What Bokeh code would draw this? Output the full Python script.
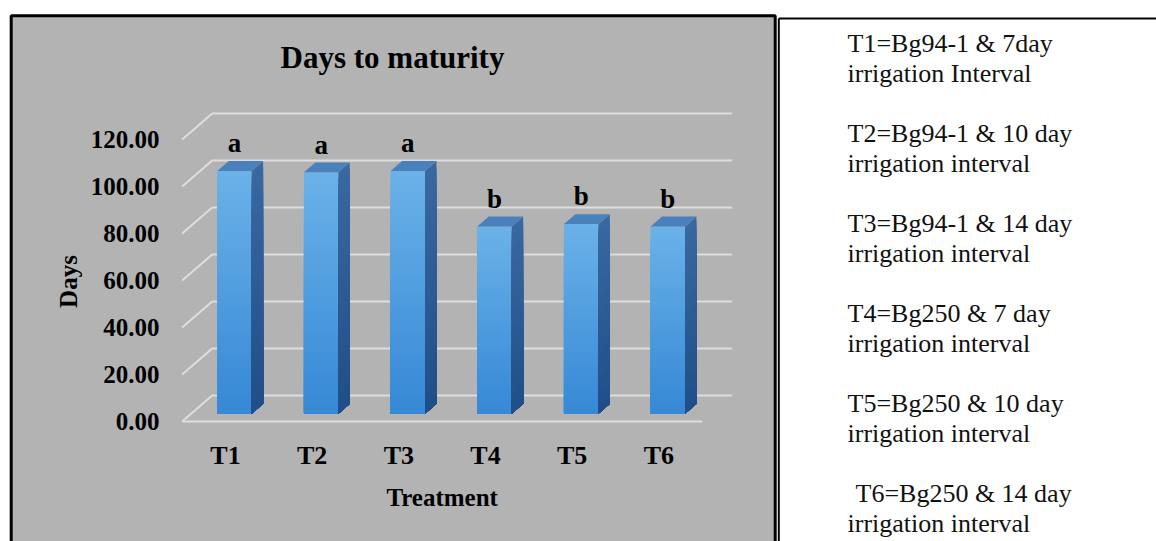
import numpy as np
from bokeh.plotting import figure
from bokeh.models import Range1d
from bokeh.embed import file_html
from bokeh.resources import INLINE
from bokeh.core.properties import value

# ---- data -------------------------------------------------------------
treatments = ["T1", "T2", "T3", "T4", "T5", "T6"]
days = [103.3, 102.7, 103.3, 79.7, 80.7, 79.7]
groups = ["a", "a", "a", "b", "b", "b"]
y_ticks = [0, 20, 40, 60, 80, 100, 120]
y_tick_labels = [f"{t:.2f}" for t in y_ticks]
key_first = ["T1=Bg94-1 & 7day", "T2=Bg94-1 & 10 day", "T3=Bg94-1 & 14 day",
             "T4=Bg250 & 7 day", "T5=Bg250 & 10 day", "T6=Bg250 & 14 day"]
key_second = ["irrigation Interval", "irrigation interval", "irrigation interval",
              "irrigation interval", "irrigation interval", "irrigation interval"]

# ---- geometry of the page (pixels) -------------------------------------
W, H = 1156, 541
SLOT = 86.67          # pixels per category slot
PX_PER_DAY = 2.35     # pixels per day on the value axis
X0 = 225.0            # pixel x of the first category centre, front plane
Y0 = 421.0            # pixel y of zero, front plane
LIFT = 10.0           # pixels to raise baseline-anchored text


def xd(px):
    return (px - X0) / SLOT


def yd(py):
    return (Y0 - py) / PX_PER_DAY


def yb(py):
    """data y for a text baseline at pixel row py"""
    return yd(py - LIFT)


# oblique depth of the floor, in data units
DEPTH_X = 30.0 / SLOT
DEPTH_Y = 26.0 / PX_PER_DAY
BAR_W = 34.4 / SLOT
BAR_FRONT = 0.30      # fraction of the floor depth where bar fronts sit
BAR_DEPTH = 0.38      # bar depth as fraction of floor depth

FONT = value("Liberation Serif")

p = figure(width=W, height=H, output_backend="svg", toolbar_location=None,
           x_range=Range1d(xd(0), xd(W)), y_range=Range1d(yd(H), yd(0)),
           x_axis_location=None, y_axis_location=None, min_border=0,
           background_fill_color="white", border_fill_color="white")
p.outline_line_color = None
p.grid.visible = False

# grey chart panel with black frame
p.quad(left=xd(10.7), right=xd(774.7), top=yd(15.3), bottom=yd(H + 20),
       fill_color="#b3b3b3", line_color="black", line_width=3)

# frame of the key box on the right
p.segment(x0=[xd(778.3), xd(778.3)], y0=[yd(H + 5), yd(18)],
          x1=[xd(778.3), xd(W + 5)], y1=[yd(18), yd(18)],
          line_color="black", line_width=2)

# ---- 3D grid ----------------------------------------------------------
n = len(treatments)
left_edge = -0.5
right_edge = n - 0.5
ticks = np.array(y_ticks, dtype=float)
grid_col = "#dedede"
# back wall lines
p.segment(x0=[left_edge + DEPTH_X] * len(ticks), y0=ticks + DEPTH_Y,
          x1=[right_edge + DEPTH_X] * len(ticks), y1=ticks + DEPTH_Y,
          line_color=grid_col, line_width=2)
# side wall diagonals
p.segment(x0=[left_edge] * len(ticks), y0=ticks,
          x1=[left_edge + DEPTH_X] * len(ticks), y1=ticks + DEPTH_Y,
          line_color=grid_col, line_width=2)
# front edge of the floor
p.segment(x0=[left_edge], y0=[0], x1=[right_edge], y1=[0],
          line_color=grid_col, line_width=2)


# ---- bars ---------------------------------------------------------------
def mix(c1, c2, t):
    return "#%02x%02x%02x" % tuple(int(round(a + (b - a) * t)) for a, b in zip(c1, c2))


front_top, front_bot = (106, 178, 232), (54, 136, 214)
side_top, side_bot = (58, 104, 160), (32, 78, 136)
top_col = "#4a80bb"

fx = BAR_FRONT * DEPTH_X
fy = BAR_FRONT * DEPTH_Y
bx = BAR_DEPTH * DEPTH_X
by = BAR_DEPTH * DEPTH_Y
N = 40

# shading bands: each band runs from the floor up to its own top, drawn
# tallest first so the shorter ones overlap and no seams show
fl, fr, fb, ft, fc = [], [], [], [], []
sxs, sys_, scs = [], [], []
txs, tys = [], []
for i, v in enumerate(days):
    xl = i - BAR_W / 2 + fx
    xr = i + BAR_W / 2 + fx
    edges = np.linspace(0, v, N + 1)
    for k in range(N - 1, -1, -1):
        t = (k + 0.5) / N   # 0 bottom .. 1 top
        fl.append(xl)
        fr.append(xr)
        fb.append(fy)
        ft.append(fy + edges[k + 1])
        fc.append(mix(front_bot, front_top, t))
        sxs.append([xr, xr + bx, xr + bx, xr])
        sys_.append([fy, fy + by, fy + edges[k + 1] + by, fy + edges[k + 1]])
        scs.append(mix(side_bot, side_top, t))
    txs.append([xl, xr, xr + bx, xl + bx])
    tys.append([fy + v, fy + v, fy + v + by, fy + v + by])

p.quad(left=fl, right=fr, bottom=fb, top=ft, fill_color=fc, line_color=None)
p.patches(xs=sxs, ys=sys_, fill_color=scs, line_color=None)
p.patches(xs=txs, ys=tys, fill_color=top_col, line_color=None)

# significance letters
lift_days = LIFT / PX_PER_DAY
p.text(x=[i + fx for i in range(n)], y=[v + fy + 7.5 + lift_days for v in days],
       text=groups, text_font=FONT, text_font_style="bold", text_font_size="27px",
       text_align="center", text_baseline="alphabetic", text_color="black")

# ---- axes text ------------------------------------------------------------
p.text(x=[xd(159)] * len(ticks), y=ticks, text=y_tick_labels,
       text_font=FONT, text_font_style="bold", text_font_size="25px",
       text_align="right", text_baseline="middle", text_color="black")
p.text(x=list(range(n)), y=[yb(465)] * n, text=treatments,
       text_font=FONT, text_font_style="bold", text_font_size="26px",
       text_align="center", text_baseline="alphabetic", text_color="black")
p.text(x=[(left_edge + right_edge) / 2], y=[yb(507)], text=["Treatment"],
       text_font=FONT, text_font_style="bold", text_font_size="25px",
       text_align="center", text_baseline="alphabetic", text_color="black")
p.text(x=[xd(68)], y=[yd(281)], text=["Days"], angle=np.pi / 2,
       text_font=FONT, text_font_style="bold", text_font_size="25px",
       text_align="center", text_baseline="middle", text_color="black")
p.text(x=[xd(392)], y=[yb(67)], text=["Days to maturity"],
       text_font=FONT, text_font_style="bold", text_font_size="31px",
       text_align="center", text_baseline="alphabetic", text_color="black")

# ---- key ------------------------------------------------------------------
key_x = [xd(847)] * n
key_off = [8 if k == n - 1 else 0 for k in range(n)]
p.text(x=key_x, y=[yb(53 + 90 * k) for k in range(n)], text=key_first,
       x_offset=key_off, text_font=FONT, text_font_size="26px",
       text_align="left", text_baseline="alphabetic", text_color="#111111")
p.text(x=key_x, y=[yb(83 + 90 * k) for k in range(n)], text=key_second,
       text_font=FONT, text_font_size="26px",
       text_align="left", text_baseline="alphabetic", text_color="#111111")

open("out.html", "w").write(file_html(p, INLINE))
